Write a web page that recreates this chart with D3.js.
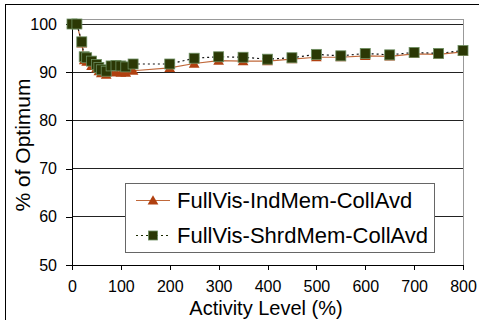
<!DOCTYPE html>
<html>
<head>
<script src="https://d3js.org/d3.v7.min.js"></script>
<style>
body { margin: 0; background: #fff; }
svg text { font-family: "Liberation Sans", Arial, sans-serif; fill: #000; }
.axis path, .axis line { stroke: #000; shape-rendering: crispEdges; }
.axis text { font-size: 16px; font-family: "Liberation Sans", Arial, sans-serif; }
</style>
</head>
<body>
<div id="canvas"></div>
<script>
// activity level (%) values
var activity = [0, 10, 20, 25, 30, 40, 50, 55, 60, 70, 80, 90, 100, 110, 125,
                200, 250, 300, 350, 400, 450, 500, 550, 600, 650, 700, 750, 800];
var indMem =   [100, 100, 96.0, 92.5, 92.2, 91.3, 90.8, 90.2, 89.8, 89.5, 90.0, 90.0, 89.9, 89.9, 90.3,
                90.9, 91.8, 92.4, 92.3, 92.3, 92.7, 93.1, 93.1, 93.4, 93.3, 93.8, 93.7, 94.2];
var shrdMem =  [100, 100, 96.3, 93.2, 93.0, 92.3, 91.6, 91.0, 90.5, 90.2, 91.3, 91.4, 91.3, 91.1, 91.7,
                91.7, 92.9, 93.2, 93.1, 92.7, 93.0, 93.7, 93.4, 93.9, 93.6, 94.1, 93.9, 94.5];
var xTicks = [0, 100, 200, 300, 400, 500, 600, 700, 800];
var yTicks = [50, 60, 70, 80, 90, 100];
var seriesNames = ["FullVis-IndMem-CollAvd", "FullVis-ShrdMem-CollAvd"];

var width = 479, height = 320;
var svg = d3.select("#canvas").append("svg")
    .attr("width", width).attr("height", height);

// chart border (right and bottom fall outside the picture)
svg.append("rect")
    .attr("x", 5.5).attr("y", 4.5)
    .attr("width", width + 10).attr("height", height + 10)
    .attr("fill", "none").attr("stroke", "#000")
    .attr("shape-rendering", "crispEdges");

var x = d3.scaleLinear().domain([0, 800]).range([72, 463]);
var y = d3.scaleLinear().domain([50, 100]).range([265, 24]);

// plot area frame (gray), slightly above 100
svg.append("rect")
    .attr("x", x(0)).attr("y", y(101))
    .attr("width", x(800) - x(0)).attr("height", y(50) - y(101))
    .attr("fill", "none").attr("stroke", "#999")
    .attr("shape-rendering", "crispEdges");

// gridlines
svg.append("g").selectAll("line")
    .data(yTicks.filter(function(d) { return d > 50; }))
    .enter().append("line")
    .attr("x1", x(0)).attr("x2", x(800))
    .attr("y1", function(d) { return y(d); })
    .attr("y2", function(d) { return y(d); })
    .attr("stroke", "#222")
    .attr("shape-rendering", "crispEdges");

svg.append("g")
    .attr("class", "axis")
    .attr("transform", "translate(0," + y(50) + ")")
    .call(d3.axisBottom(x).tickValues(xTicks).tickSize(5).tickSizeOuter(0).tickPadding(11));

svg.append("g")
    .attr("class", "axis")
    .attr("transform", "translate(" + x(0) + ",0)")
    .call(d3.axisLeft(y).tickValues(yTicks).tickSize(6).tickSizeOuter(0).tickPadding(9));

svg.selectAll(".axis .domain").attr("stroke", "#000");

var line = function(vals) {
    return d3.line()
        .x(function(d, i) { return x(activity[i]); })
        .y(function(d) { return y(d); })(vals);
};

var triColor = "#b04010", lineColor = "#c0683a";
var sqFill = "#2b3805", sqStroke = "#6e8f62";
var tri = d3.symbol().type(d3.symbolTriangle).size(50);

// series 1: IndMem
svg.append("path")
    .attr("d", line(indMem))
    .attr("fill", "none").attr("stroke", lineColor).attr("stroke-width", 1.2);
svg.append("g").selectAll("path")
    .data(indMem).enter().append("path")
    .attr("d", tri)
    .attr("transform", function(d, i) { return "translate(" + x(activity[i]) + "," + (y(d) + 1) + ")"; })
    .attr("fill", triColor);

// series 2: ShrdMem
svg.append("path")
    .attr("d", line(shrdMem))
    .attr("fill", "none").attr("stroke", "#111").attr("stroke-width", 1.2)
    .attr("stroke-dasharray", "2,3");
svg.append("g").selectAll("rect")
    .data(shrdMem).enter().append("rect")
    .attr("x", function(d, i) { return x(activity[i]) - 5; })
    .attr("y", function(d) { return y(d) - 5; })
    .attr("width", 10).attr("height", 10)
    .attr("fill", sqFill).attr("stroke", sqStroke).attr("stroke-width", 0.8);

// legend
var lg = svg.append("g");
lg.append("rect")
    .attr("x", 125.5).attr("y", 183.5).attr("width", 309).attr("height", 69)
    .attr("fill", "#fff").attr("stroke", "#666")
    .attr("shape-rendering", "crispEdges");
var rows = [200.5, 235.5];
lg.append("line").attr("x1", 136).attr("x2", 170).attr("y1", rows[0]).attr("y2", rows[0])
    .attr("stroke", lineColor).attr("stroke-width", 1.2);
lg.append("path").attr("d", tri).attr("transform", "translate(153," + (rows[0] + 1) + ")")
    .attr("fill", triColor);
lg.append("line").attr("x1", 136).attr("x2", 170).attr("y1", rows[1]).attr("y2", rows[1])
    .attr("stroke", "#1a2a00").attr("stroke-width", 1.2).attr("stroke-dasharray", "2,3");
lg.append("rect").attr("x", 148.5).attr("y", rows[1] - 4.5).attr("width", 9).attr("height", 9)
    .attr("fill", sqFill).attr("stroke", sqStroke).attr("stroke-width", 0.8);
lg.selectAll("text.lab").data(seriesNames).enter().append("text")
    .attr("class", "lab")
    .attr("x", 177)
    .attr("y", function(d, i) { return rows[i]; })
    .attr("dy", "0.36em")
    .style("font-size", "22px")
    .text(function(d) { return d; });

// axis titles
svg.append("text")
    .attr("x", 266).attr("y", 315)
    .attr("text-anchor", "middle")
    .style("font-size", "20px")
    .text("Activity Level (%)");
svg.append("text")
    .attr("transform", "translate(30,145) rotate(-90)")
    .attr("text-anchor", "middle")
    .style("font-size", "21px")
    .text("% of Optimum");
</script>
</body>
</html>
